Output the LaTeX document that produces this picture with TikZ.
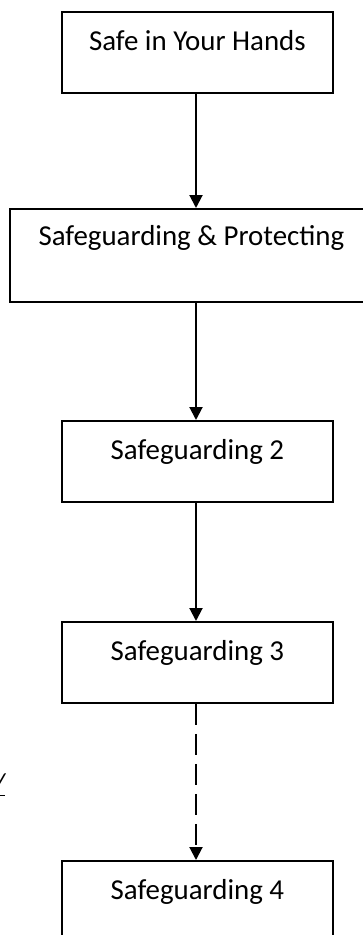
\documentclass[tikz,border=0pt]{standalone}
\usepackage{fontspec}
\setmainfont{Carlito}
\usetikzlibrary{arrows.meta}
\begin{document}
\begin{tikzpicture}[x=1pt,y=-1pt,
  box/.style={draw=black,line width=1.8pt,rectangle,inner sep=0pt,anchor=north west},
  lbl/.style={anchor=base,inner sep=0pt,font=\fontsize{28.9}{34}\selectfont},
  conn/.style={line width=2pt,-{Triangle[width=13pt,length=13pt]}},
  dconn/.style={conn,dash pattern=on 21pt off 9pt}]
\useasboundingbox (0,0) rectangle (363,935);
\node[box,minimum width=271pt,minimum height=81pt] (b1) at (61,11) {};
\node[lbl] (t1) at ([yshift=-39pt]b1.north) {Safe in Your Hands};
\node[box,minimum width=363pt,minimum height=93pt] (b2) at (9,208) {};
\node[lbl] (t2) at ([yshift=-37pt]b2.north) {Safeguarding \& Protecting};
\node[box,minimum width=271pt,minimum height=81pt] (b3) at (61,420) {};
\node[lbl] (t3) at ([yshift=-39pt]b3.north) {Safeguarding 2};
\node[box,minimum width=271pt,minimum height=81pt] (b4) at (61,621) {};
\node[lbl] (t4) at ([yshift=-39pt]b4.north) {Safeguarding 3};
\node[box,minimum width=271pt,minimum height=81pt] (b5) at (61,860) {};
\node[lbl] (t5) at ([yshift=-39pt]b5.north) {Safeguarding 4};
\coordinate (a1s) at (196,92); \coordinate (a1e) at (196,208);
\draw[conn] (b1.south -| a1s) -- (b2.north -| a1s);
\draw[conn] (b2.south -| a1s) -- (b3.north -| a1s);
\draw[conn] (b3.south -| a1s) -- (b4.north -| a1s);
\draw[dconn] (b4.south -| a1s) -- (b5.north -| a1s);
\node[lbl,anchor=base east] (m) at (5,793) {\textit{\underline{/}}};
\end{tikzpicture}
\end{document}
